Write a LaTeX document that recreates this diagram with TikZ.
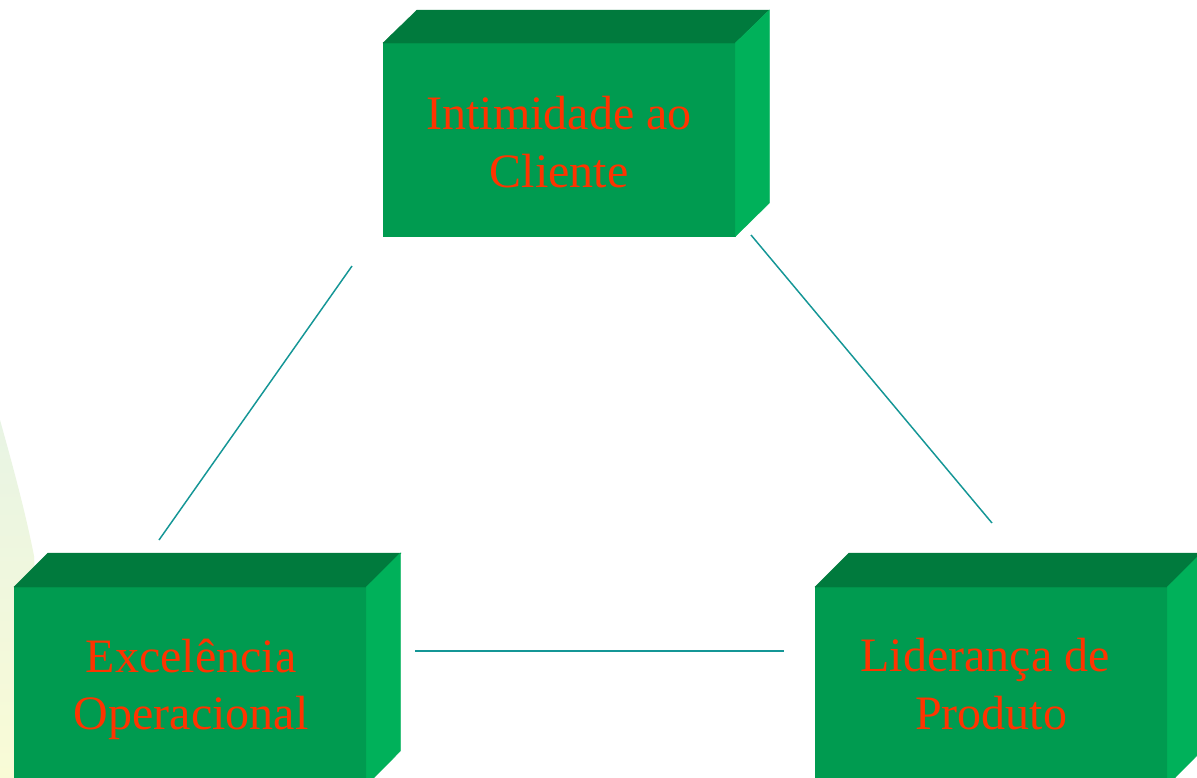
\documentclass[tikz,border=0pt]{standalone}
\usepackage{fontspec}
\setmainfont{Liberation Serif}
\definecolor{frontg}{RGB}{0,155,80}
\definecolor{topg}{RGB}{0,122,61}
\definecolor{sideg}{RGB}{0,177,90}
\definecolor{txtred}{RGB}{255,51,0}
\definecolor{linec}{RGB}{20,150,150}
\definecolor{bgA}{RGB}{232,244,228}
\definecolor{bgB}{RGB}{249,251,214}
\tikzset{
  face/.style={fill=frontg, draw=frontg, line width=0.3pt, inner sep=0pt, minimum width=264pt},
  boxtext/.style={text=txtred, inner sep=0pt, font=\fontsize{36}{43}\selectfont, align=center},
  topface/.style={fill=topg, draw=topg, line width=0.3pt},
  sideface/.style={fill=sideg, draw=sideg, line width=0.3pt},
  conn/.style={draw=linec, line width=1.1pt}
}
\begin{document}
\begin{tikzpicture}[x=0.75pt,y=-0.75pt]
\useasboundingbox (0,0) rectangle (1197,778);
\clip (0,0) rectangle (1197,778);
\fill[white] (0,0) rectangle (1197,778);
% background wedge
\shade[top color=bgA, bottom color=bgB] (0,420) .. controls (14,470) and (26,515) .. (34,556) -- (46,778) -- (0,778) -- cycle;

% top box
\node[face, minimum height=144.75pt, anchor=north west] (ic) at (383,43) {};
\path[topface] (ic.north west) -- ++(34,-33) -- ++(352,0) -- (ic.north east) -- cycle;
\path[sideface] (ic.north east) -- ++(34,-33) -- ++(0,193) -- (ic.south east) -- cycle;
\node[boxtext] (ict) at ([shift={(0,2.5)}]ic.center) {Intimidade ao\\Cliente};

% bottom left box
\node[face, minimum height=148.5pt, anchor=north west] (eo) at (14,587) {};
\path[topface] (eo.north west) -- ++(34,-34) -- ++(353,0) -- (eo.north east) -- cycle;
\path[sideface] (eo.north east) -- ++(34,-34) -- ++(0,198) -- (eo.south east) -- cycle;
\node[boxtext] (eot) at ([shift={(1,3.5)}]eo.center) {Excelência\\Operacional};

% bottom right box
\node[face, minimum height=148.5pt, anchor=north west] (lp) at (815,587) {};
\path[topface] (lp.north west) -- ++(34,-34) -- ++(353,0) -- (lp.north east) -- cycle;
\path[sideface] (lp.north east) -- ++(34,-34) -- ++(0,198) -- (lp.south east) -- cycle;
\node[boxtext] (lpt) at ([shift={(0,-2)}]lp.center) {Liderança de\hspace*{9pt}\\Produto};

% connectors
\coordinate (c1a) at (352,266);
\coordinate (c1b) at (159,540);
\coordinate (c2a) at (751,235);
\coordinate (c2b) at (992,523);
\coordinate (c3a) at (415,651);
\coordinate (c3b) at (784,651);
\draw[conn] (c1a) -- (c1b);
\draw[conn] (c2a) -- (c2b);
\draw[conn] (c3a) -- (c3b);
\end{tikzpicture}
\end{document}
